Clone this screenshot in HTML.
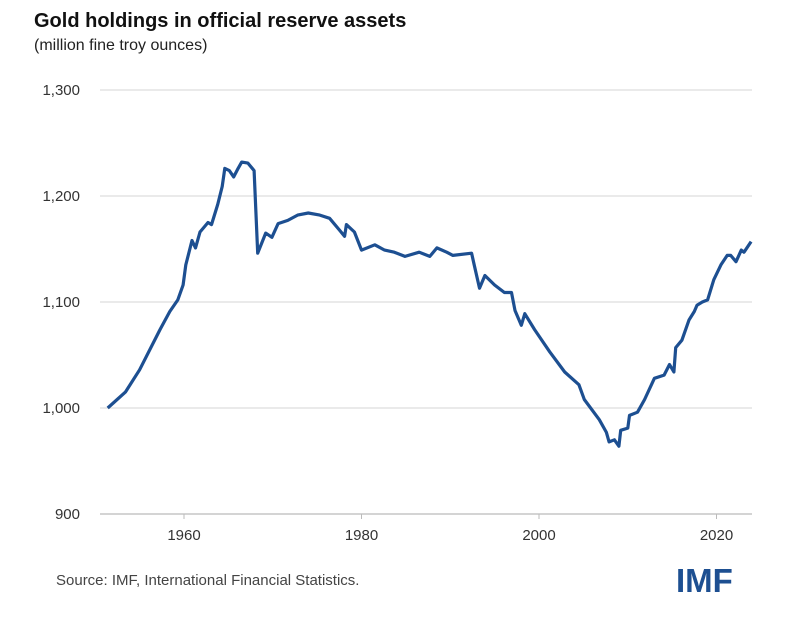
<!DOCTYPE html>
<html><head><meta charset="utf-8"><style>
body{margin:0;background:#fff;font-family:"Liberation Sans",sans-serif;}
#wrap{position:relative;width:800px;height:627px;overflow:hidden;}
.t{position:absolute;white-space:nowrap;}
</style></head><body>
<div id="wrap">
<div class="t" style="left:34px;top:10px;font-size:20px;font-weight:bold;color:#111;">Gold holdings in official reserve assets</div>
<div class="t" style="left:34px;top:37px;font-size:16px;color:#222;">(million fine troy ounces)</div>
<svg id="chart" width="800" height="627" style="position:absolute;left:0;top:0"></svg>
<div class="t" style="left:56px;top:572px;font-size:15px;color:#444;">Source: IMF, International Financial Statistics.</div>
<div class="t" style="left:676px;top:562px;font-size:33px;font-weight:bold;color:#1d4f91;letter-spacing:0px;">IMF</div>
</div>
<script>
const years=[1951.4,1953.4,1955,1957.3,1958.4,1959.3,1959.9,1960.2,1960.9,1961.3,1961.8,1962.7,1963.1,1963.8,1964.3,1964.6,1965.1,1965.6,1966.1,1966.5,1967.2,1967.9,1968.1,1968.3,1969.2,1969.9,1970.6,1971.7,1972.8,1974,1975.3,1976.4,1977.5,1978.1,1978.3,1979.2,1980,1981.5,1982.6,1983.7,1984.9,1986.5,1987.7,1988.5,1989.6,1990.3,1992.4,1992.7,1993.3,1993.9,1995,1996.1,1996.9,1997.3,1998,1998.4,1999.5,2001.2,2002.9,2004.5,2005.1,2006.8,2007.6,2007.9,2008.5,2009.0,2009.2,2010,2010.2,2011.1,2011.9,2013,2014.1,2014.7,2015.2,2015.4,2016.1,2016.9,2017.5,2017.8,2018.4,2019,2019.7,2020.5,2021.2,2021.6,2022.2,2022.8,2023.1,2023.9];
const holdings=[1000,1015,1036,1074,1091,1102,1116,1135,1158,1151,1166,1175,1173,1192,1209,1226,1224,1218,1226,1232,1231,1224,1185,1146,1165,1161,1174,1177,1182,1184,1182,1179,1168,1162,1173,1166,1149,1154,1149,1147,1143,1147,1143,1151,1147,1144,1146,1135,1113,1125,1116,1109,1109,1092,1078,1089,1074,1053,1034,1022,1008,989,977,968,970,964,979,981,993,996,1008,1028,1031,1041,1034,1057,1064,1083,1091,1097,1100,1102,1121,1135,1144,1144,1138,1149,1147,1157];
const yTicks=[900,1000,1100,1200,1300];
const yTickLabels=["900","1,000","1,100","1,200","1,300"];
const xTicks=[1960,1980,2000,2020];
const NS="http://www.w3.org/2000/svg";
const svg=document.getElementById('chart');
const x=v=>184+(v-1960)*8.875;
const y=v=>514-(v-900)*1.06;
yTicks.forEach((t,i)=>{
  const l=document.createElementNS(NS,'line');
  l.setAttribute('x1',100);l.setAttribute('x2',752);
  l.setAttribute('y1',y(t));l.setAttribute('y2',y(t));
  l.setAttribute('stroke',t===900?'#bbb':'#ddd');l.setAttribute('stroke-width',1.3);
  
  
  svg.appendChild(l);
  const tx=document.createElementNS(NS,'text');
  tx.setAttribute('x',80);tx.setAttribute('y',y(t)+5);
  tx.setAttribute('text-anchor','end');tx.setAttribute('font-size','15');
  tx.setAttribute('fill','#333');tx.setAttribute('font-family','Liberation Sans, sans-serif');
  tx.textContent=yTickLabels[i];
  
  
  svg.appendChild(tx);
});
xTicks.forEach(t=>{
  const tk=document.createElementNS(NS,'line');
  tk.setAttribute('x1',x(t));tk.setAttribute('x2',x(t));
  tk.setAttribute('y1',514);tk.setAttribute('y2',519);
  tk.setAttribute('stroke','#bbb');
  
  
  svg.appendChild(tk);
  const tx=document.createElementNS(NS,'text');
  tx.setAttribute('x',x(t));tx.setAttribute('y',540);
  tx.setAttribute('text-anchor','middle');tx.setAttribute('font-size','15');
  tx.setAttribute('fill','#333');tx.setAttribute('font-family','Liberation Sans, sans-serif');
  tx.textContent=t;
  
  
  svg.appendChild(tx);
});
const p=document.createElementNS(NS,'path');
p.setAttribute('d',years.map((yr,i)=>(i?'L':'M')+x(yr).toFixed(1)+','+y(holdings[i]).toFixed(1)).join(' '));
p.setAttribute('fill','none');p.setAttribute('stroke','#1d4f91');
p.setAttribute('stroke-width',3.2);p.setAttribute('stroke-linejoin','round');


svg.appendChild(p);
</script>
</body></html>
